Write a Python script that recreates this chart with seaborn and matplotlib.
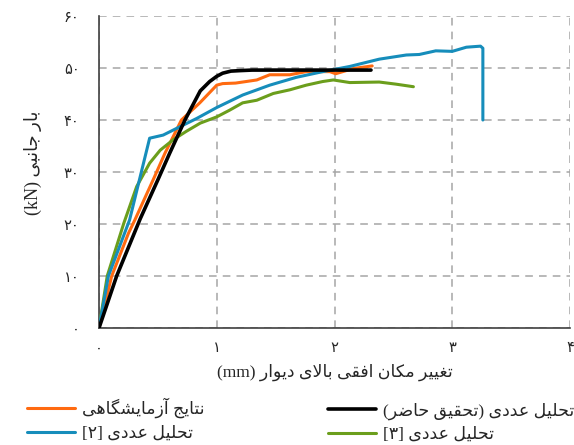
import re
import numpy as np
import pandas as pd
import matplotlib
matplotlib.use("Agg")
import matplotlib.pyplot as plt
import seaborn as sns

# ---------------- data ----------------
black_x = [0, 0.15, 0.35, 0.50, 0.60, 0.73, 0.86, 0.94, 1.00, 1.05, 1.12, 1.20, 1.30, 1.60, 2.00, 2.31]
black_y = [0, 10, 21, 28.5, 33.6, 40, 45.6, 47.4, 48.4, 49.0, 49.4, 49.5, 49.6, 49.6, 49.6, 49.6]

orange_x = [0, 0.108, 0.25, 0.305, 0.46, 0.56, 0.70, 0.856, 1.00, 1.05, 1.16, 1.34, 1.45,
            1.62, 1.76, 1.96, 2.01, 2.16, 2.32]
orange_y = [0, 10, 18.2, 20.8, 28.5, 33.6, 40, 43.3, 46.7, 47.0, 47.1, 47.7, 48.7,
            48.7, 49.3, 49.3, 48.9, 49.9, 50.4]

blue_x = [0, 0.08, 0.26, 0.43, 0.545, 0.66, 0.83, 1.0, 1.22, 1.45, 1.675, 1.90, 2.13,
          2.38, 2.61, 2.72, 2.86, 3.0, 3.12, 3.24, 3.26, 3.26]
blue_y = [0, 10, 20.8, 36.5, 37.1, 38.4, 40.3, 42.4, 44.8, 46.7, 48.2, 49.3, 50.3,
          51.7, 52.5, 52.6, 53.3, 53.2, 54.0, 54.2, 53.8, 40]

green_x = [0, 0.07, 0.21, 0.32, 0.43, 0.52, 0.63, 0.74, 0.86, 1.0, 1.11, 1.22, 1.34,
           1.48, 1.62, 1.76, 1.90, 1.99, 2.13, 2.38, 2.52, 2.67]
green_y = [0, 10, 20.1, 27.2, 31.7, 34.2, 36.2, 37.8, 39.4, 40.6, 41.9, 43.3, 43.8,
           45.1, 45.8, 46.7, 47.4, 47.7, 47.2, 47.3, 46.9, 46.4]

series_names = ["نتایج آزمایشگاهی", "تحلیل عددی [۲]", "تحلیل عددی (تحقیق حاضر)", "تحلیل عددی [۳]"]
series_colors = ["#ff6a10", "#168dbb", "#000000", "#6b9e1c"]

x_ticks = [0, 1, 2, 3, 4]
x_tick_labels = ["۰", "۱", "۲", "۳", "۴"]
y_ticks = [0, 10, 20, 30, 40, 50, 60]
y_tick_labels = ["۰", "۱۰", "۲۰", "۳۰", "۴۰", "۵۰", "۶۰"]

x_label = "تغییر مکان افقی بالای دیوار (mm)"
y_label = "بار جانبی (kN)"

# ---------------- minimal Persian shaping ----------------
FORMS = {
    "\u0627": ("\uFE8D", "\uFE8E", None, None),
    "\u0622": ("\uFE81", "\uFE82", None, None),
    "\u0628": ("\uFE8F", "\uFE90", "\uFE91", "\uFE92"),
    "\u062A": ("\uFE95", "\uFE96", "\uFE97", "\uFE98"),
    "\u062C": ("\uFE9D", "\uFE9E", "\uFE9F", "\uFEA0"),
    "\u062D": ("\uFEA1", "\uFEA2", "\uFEA3", "\uFEA4"),
    "\u062F": ("\uFEA9", "\uFEAA", None, None),
    "\u0631": ("\uFEAD", "\uFEAE", None, None),
    "\u0632": ("\uFEAF", "\uFEB0", None, None),
    "\u0634": ("\uFEB5", "\uFEB6", "\uFEB7", "\uFEB8"),
    "\u0636": ("\uFEBD", "\uFEBE", "\uFEBF", "\uFEC0"),
    "\u0639": ("\uFEC9", "\uFECA", "\uFECB", "\uFECC"),
    "\u063A": ("\uFECD", "\uFECE", "\uFECF", "\uFED0"),
    "\u0641": ("\uFED1", "\uFED2", "\uFED3", "\uFED4"),
    "\u0642": ("\uFED5", "\uFED6", "\uFED7", "\uFED8"),
    "\u0644": ("\uFEDD", "\uFEDE", "\uFEDF", "\uFEE0"),
    "\u0645": ("\uFEE1", "\uFEE2", "\uFEE3", "\uFEE4"),
    "\u0646": ("\uFEE5", "\uFEE6", "\uFEE7", "\uFEE8"),
    "\u0647": ("\uFEE9", "\uFEEA", "\uFEEB", "\uFEEC"),
    "\u0648": ("\uFEED", "\uFEEE", None, None),
    "\u06CC": ("\uFBFC", "\uFBFD", "\uFBFE", "\uFBFF"),
    "\u06A9": ("\uFB8E", "\uFB8F", "\uFB90", "\uFB91"),
    "\u06AF": ("\uFB92", "\uFB93", "\uFB94", "\uFB95"),
}
LAM_ALEF = {"\u0627": ("\uFEFB", "\uFEFC"), "\u0622": ("\uFEF5", "\uFEF6")}


def _dual(c):
    return c in FORMS and FORMS[c][2] is not None


def shape(s):
    out, i, n = [], 0, len(s)
    while i < n:
        c = s[i]
        if c not in FORMS:
            out.append(c)
            i += 1
            continue
        prev = s[i - 1] if i > 0 else None
        cp = prev is not None and _dual(prev)
        if c == "\u0644" and i + 1 < n and s[i + 1] in LAM_ALEF:
            iso, fin = LAM_ALEF[s[i + 1]]
            out.append(fin if cp else iso)
            i += 2
            continue
        nxt = s[i + 1] if i + 1 < n else None
        cn = _dual(c) and nxt is not None and nxt in FORMS
        iso, fin, ini, med = FORMS[c]
        out.append(med if (cp and cn) else fin if cp else ini if cn else iso)
        i += 1
    return "".join(out)


def rtl(s):
    mirror = {"(": ")", ")": "(", "[": "]", "]": "["}
    v = "".join(mirror.get(c, c) for c in shape(s)[::-1])
    return re.sub(r"[A-Za-z0-9]+", lambda m: m.group(0)[::-1], v)


# ---------------- dataframe ----------------
frames = []
for name, xs, ys in zip(series_names,
                        [orange_x, blue_x, black_x, green_x],
                        [orange_y, blue_y, black_y, green_y]):
    frames.append(pd.DataFrame({"x": xs, "y": ys, "series": rtl(name),
                                "order": np.arange(len(xs))}))
df = pd.concat(frames, ignore_index=True)

# ---------------- plot ----------------
sns.set_style("white")
plt.rcParams["font.family"] = ["Liberation Serif", "DejaVu Sans"]

fig = plt.figure(figsize=(5.74, 4.45), dpi=100)
ax = fig.add_axes([99 / 574, 1 - 328 / 445, (570 - 99) / 574, 312 / 445])

palette = dict(zip([rtl(n) for n in series_names], series_colors))
hue_order = [rtl(n) for n in series_names]
draw_order = [rtl(series_names[i]) for i in (0, 3, 1, 2)]
for nm in draw_order:
    sub = df[df["series"] == nm]
    sns.lineplot(data=sub, x="x", y="y", color=palette[nm], sort=False,
                 estimator=None, lw=2.6 if nm == rtl(series_names[2]) else 2.2,
                 ax=ax, label=nm, zorder=3)

ax.set_xlim(0, 4)
ax.set_ylim(0, 60)
ax.set_xticks(x_ticks)
ax.set_xticklabels(x_tick_labels, family=["DejaVu Sans"], fontsize=10.5)
ax.set_yticks(y_ticks)
ax.set_yticklabels(y_tick_labels, family=["DejaVu Sans"], fontsize=10.5)
ax.tick_params(axis="x", direction="inout", length=8, width=1, color="#404040", pad=5)
ax.tick_params(axis="y", direction="inout", length=8, width=1, color="#404040", pad=10)

ax.grid(True, color="#a6a6a6", linestyle=(0, (5, 4)), linewidth=1.1)
for s in ("top", "right"):
    ax.spines[s].set_visible(False)
for s in ("left", "bottom"):
    ax.spines[s].set_color("#404040")
    ax.spines[s].set_linewidth(1.2)

ax.set_xlabel(rtl(x_label), fontsize=12.5)
ax.xaxis.set_label_coords(0.5, -0.115)
ax.set_ylabel(rtl(y_label), fontsize=13)
ax.yaxis.set_label_coords(-0.12, 0.53)

handles, labels = ax.get_legend_handles_labels()
hl = dict(zip(labels, handles))
ax.get_legend().remove()

leg_kw = dict(loc="center left", frameon=False, fontsize=12.5, handlelength=2.75,
              handletextpad=0.42, borderpad=0, borderaxespad=0)
# legend entry anchor points (pixels): orange, blue in left column; black, green in right column
leg_pos = [(27, 408), (27, 434), (328, 411), (328, 435)]
for lab, (px, py) in zip(hue_order, leg_pos):
    fig.legend([hl[lab]], [lab], bbox_to_anchor=(px / 574, 1 - py / 445), **leg_kw)

fig.savefig("out.png", dpi=100)
